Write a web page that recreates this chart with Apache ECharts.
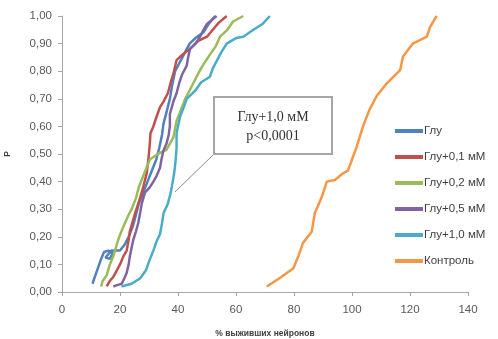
<!DOCTYPE html>
<html>
<head>
<meta charset="utf-8">
<script src="https://cdn.jsdelivr.net/npm/echarts@6/dist/echarts.min.js"></script>
<style>
  html, body { margin: 0; padding: 0; background: #fff; }
  #chart { width: 498px; height: 339px; }
</style>
</head>
<body>
<div id="chart"></div>
<script>
// ─── данные (x = % выживших нейронов, y = P) ───────────────────────────────
const seriesNames = ['Глу', 'Глу+0,1 мМ', 'Глу+0,2 мМ', 'Глу+0,5 мМ', 'Глу+1,0 мМ', 'Контроль']
const colors      = ['#4f81bd', '#c0504d', '#9bbb59', '#8064a2', '#4bacc6', '#f79646']

const glu = [
  [10.5,0.03],[11.5,0.06],[12.5,0.09],[13.5,0.12],[14.5,0.145],[16,0.15],[17.5,0.14],[16.5,0.12],[15,0.125],
  [17,0.15],[20,0.15],[21.5,0.17],[23,0.20],[24.5,0.24],[25.5,0.28],[26.5,0.32],[28,0.36],[29.5,0.40],
  [31,0.44],[32.5,0.48],[33.5,0.52],[34.5,0.57],[35,0.61],[36,0.65],[37.2,0.70],[38,0.75],[39,0.80],
  [40.5,0.83],[42,0.86],[44,0.90],[46,0.92],[48.7,0.94],[50.5,0.97],[52.8,1.0]
]
const glu01 = [
  [15.4,0.02],[16.5,0.04],[17.7,0.055],[19,0.08],[20,0.10],[21.2,0.13],[22.3,0.15],[23,0.19],[23.4,0.22],
  [24.5,0.26],[25.2,0.285],[26.9,0.34],[28,0.38],[29.2,0.43],[29.8,0.48],[30.3,0.54],[30.5,0.575],
  [31.5,0.60],[32.6,0.635],[33.8,0.67],[35,0.69],[36.5,0.72],[37.5,0.76],[38.4,0.79],[39.5,0.84],
  [41.5,0.86],[44,0.88],[47,0.91],[50,0.925],[52,0.95],[54,0.975],[56.8,1.0]
]
const glu02 = [
  [13.5,0.02],[14,0.04],[15.4,0.06],[16.5,0.10],[17.7,0.13],[19.4,0.19],[20.5,0.22],[21.7,0.25],[23,0.28],
  [24,0.30],[25.5,0.34],[26.5,0.38],[28,0.42],[30.3,0.48],[33,0.50],[36,0.515],[38.4,0.56],[39.5,0.62],
  [41,0.66],[42.5,0.70],[44,0.73],[46.4,0.78],[48.5,0.82],[51,0.86],[53,0.89],[54.5,0.925],[57,0.95],
  [59,0.98],[62.5,1.0]
]
const glu05 = [
  [17.7,0.02],[19,0.025],[20.6,0.03],[21.5,0.05],[22.3,0.07],[23,0.10],[23.4,0.13],[24,0.16],[24.6,0.19],
  [25.5,0.22],[26.3,0.25],[27,0.29],[27.5,0.32],[28.6,0.36],[30.3,0.38],[31.5,0.40],[32.6,0.42],
  [33.8,0.45],[34.3,0.48],[34.9,0.51],[36.1,0.54],[36.8,0.57],[37.2,0.60],[37.2,0.645],[38.4,0.69],
  [39.5,0.72],[40.5,0.76],[41.5,0.79],[43,0.82],[43.5,0.85],[44.1,0.88],[46,0.90],[47.6,0.925],
  [48.8,0.95],[49.9,0.97],[53.3,1.0]
]
const glu10 = [
  [20.5,0.02],[24,0.03],[27,0.05],[29,0.08],[30,0.11],[31.5,0.15],[32.5,0.18],[33.8,0.21],[34.5,0.25],
  [35,0.285],[36.5,0.32],[37.5,0.36],[38.2,0.40],[38.8,0.44],[39.2,0.48],[39.5,0.52],[39.5,0.575],
  [40.7,0.635],[42,0.67],[43,0.70],[46,0.73],[48,0.76],[51,0.78],[52,0.81],[53.5,0.84],[55,0.87],
  [56.8,0.90],[60,0.92],[62.5,0.925],[66,0.95],[69,0.97],[71.7,1.0]
]
const control = [
  [70.6,0.02],[75,0.05],[79.8,0.086],[81.5,0.13],[83.1,0.178],[86.1,0.218],[87.2,0.286],[89.6,0.345],
  [91.3,0.40],[94.1,0.406],[96.9,0.43],[98.6,0.44],[100,0.48],[101.6,0.526],[103.8,0.60],[106,0.66],
  [108.5,0.71],[112,0.756],[116.6,0.804],[117.6,0.853],[121,0.90],[125.8,0.925],[126.9,0.96],[129.2,1.0]
]
const allData = [glu, glu01, glu02, glu05, glu10, control]

const xTicks = { min: 0, max: 140, interval: 20 }
const yTicks = { min: 0, max: 1, interval: 0.1 }

const annotation = ['Глу+1,0 мМ', 'p<0,0001']

// ─── chart ───────────────────────────────────────────────────────────────────
const chart = echarts.init(document.getElementById('chart'), null, { renderer: 'canvas' })

const axisText = { color: '#595959', fontSize: 11.5, fontFamily: 'Liberation Sans, Arial, sans-serif' }
const serif = 'Liberation Serif, Times New Roman, serif'

chart.setOption({
  animation: false,
  backgroundColor: '#fff',
  grid: { left: 62, right: 30, top: 16, bottom: 47, containLabel: false, outerBoundsMode: 'none' },
  legend: {
    orient: 'vertical', left: 390, top: 120,
    itemWidth: 28, itemHeight: 4, itemGap: 14, icon: 'rect',
    textStyle: { color: '#404040', fontSize: 11.5, fontFamily: 'Liberation Sans, Arial, sans-serif', padding: [0, 0, 0, -4] },
    data: seriesNames,
  },
  xAxis: {
    type: 'value', ...xTicks,
    name: '% выживших нейронов', nameLocation: 'middle', nameGap: 37,
    nameTextStyle: { fontSize: 8.5, fontWeight: 'bold', color: '#404040' },
    axisLine: { lineStyle: { color: '#a6a6a6' } },
    axisTick: { show: true, length: 4, lineStyle: { color: '#a6a6a6' } },
    axisLabel: { ...axisText, margin: 12 },
    splitLine: { show: false },
  },
  yAxis: {
    type: 'value', ...yTicks,
    name: 'P', nameLocation: 'middle', nameGap: 50,
    nameTextStyle: { fontSize: 8.5, fontWeight: 'bold', color: '#404040' },
    axisLine: { show: true, lineStyle: { color: '#a6a6a6' } },
    axisTick: { show: true, length: 4, lineStyle: { color: '#a6a6a6' } },
    axisLabel: { ...axisText, margin: 10, formatter: v => v.toFixed(2).replace('.', ',') },
    splitLine: { show: false },
  },
  series: allData.map((d, i) => ({
    name: seriesNames[i], type: 'line', data: d,
    showSymbol: false, symbol: 'none',
    lineStyle: { width: 2.5, color: colors[i] },
    itemStyle: { color: colors[i] },
  })),
  graphic: [
    { type: 'line', z: 100, shape: { x1: 214, y1: 154, x2: 175, y2: 192 }, style: { stroke: '#8c8c8c', lineWidth: 1 } },
    { type: 'rect', z: 100, shape: { x: 214, y: 97, width: 118, height: 57 }, style: { fill: '#fff', stroke: '#a6a6a6', lineWidth: 2 } },
    { type: 'text', z: 101, x: 273, y: 117, style: { text: annotation[0], align: 'center', verticalAlign: 'middle', fontSize: 14, fontFamily: serif, fill: '#333' } },
    { type: 'text', z: 101, x: 273, y: 136, style: { text: annotation[1], align: 'center', verticalAlign: 'middle', fontSize: 14, fontFamily: serif, fill: '#333' } },
  ],
})
</script>
</body>
</html>
